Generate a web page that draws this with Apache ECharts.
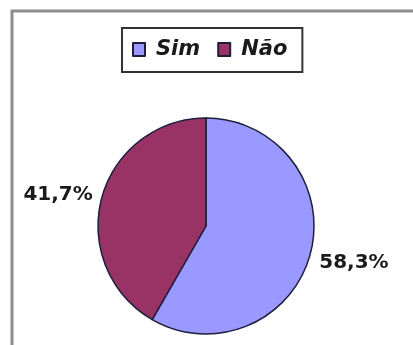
<!DOCTYPE html>
<html>
<head>
<meta charset="utf-8">
<script src="https://cdn.jsdelivr.net/npm/echarts@6/dist/echarts.min.js"></script>
<style>
  html, body { margin: 0; padding: 0; background: #ffffff; }
  #chart { width: 413px; height: 345px; }
</style>
</head>
<body>
<div id="chart"></div>
<script>
// Answer categories and their shares (percent)
const categories = ['Sim', 'Não'];
const shares = [58.3, 41.7];
const colors = ['#9999FF', '#993366'];

// Vertical nudge for each outside label
const labelShiftY = [8, -2];

const chart = echarts.init(document.getElementById('chart'), null, { renderer: 'canvas' });

chart.setOption({
  backgroundColor: '#ffffff',
  animation: false,
  graphic: [{
    type: 'rect',
    silent: true,
    shape: { x: 12, y: 11, width: 600, height: 600 },
    style: { fill: 'none', stroke: '#8c8c8c', lineWidth: 3 }
  }],
  legend: {
    left: 122,
    top: 28,
    orient: 'horizontal',
    icon: 'rect',
    itemWidth: 12,
    itemHeight: 13,
    itemGap: 17,
    padding: [11, 15, 12, 10],
    borderColor: '#333333',
    borderWidth: 2,
    backgroundColor: '#ffffff',
    data: categories,
    textStyle: {
      fontFamily: 'DejaVu Sans',
      fontWeight: 'bold',
      fontStyle: 'italic',
      fontSize: 21,
      color: '#1a1a1a',
      padding: [0, 0, 0, 6]
    }
  },
  series: [{
    type: 'pie',
    center: [206, 226],
    radius: 108,
    startAngle: 90,
    clockwise: true,
    avoidLabelOverlap: false,
    data: categories.map((name, i) => ({
      name: name,
      value: shares[i],
      itemStyle: { color: colors[i] }
    })),
    itemStyle: { borderColor: '#1e1e3c', borderWidth: 1.5 },
    label: {
      show: true,
      position: 'outside',
      formatter: p => p.value.toFixed(1).replace('.', ',') + '%',
      fontFamily: 'DejaVu Sans',
      fontWeight: 'bold',
      fontSize: 20,
      color: '#1a1a1a'
    },
    labelLine: { show: false, length: 4, length2: 0 },
    labelLayout: params => ({ dy: labelShiftY[params.dataIndex] }),
    emphasis: { disabled: true }
  }]
});
</script>
</body>
</html>
